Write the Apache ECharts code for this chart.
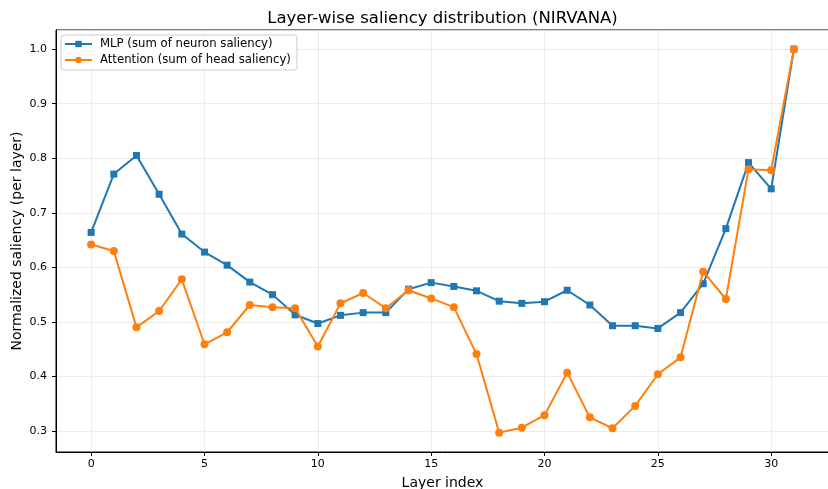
<!DOCTYPE html>
<html>
<head>
<meta charset="utf-8">
<script src="https://cdn.jsdelivr.net/npm/echarts@6/dist/echarts.min.js"></script>
<style>html,body{margin:0;padding:0;background:#fff;}#c{width:828px;height:489px;}</style>
</head>
<body>
<div id="c"></div>
<script>
const layers = [0,1,2,3,4,5,6,7,8,9,10,11,12,13,14,15,16,17,18,19,20,21,22,23,24,25,26,27,28,29,30,31];
const mlpValues = [0.664,0.771,0.805,0.734,0.661,0.628,0.604,0.573,0.550,0.513,0.497,0.512,0.517,0.517,0.560,0.572,0.565,0.557,0.538,0.534,0.537,0.558,0.531,0.493,0.493,0.488,0.517,0.570,0.671,0.792,0.744,1.0];
const attnValues = [0.642,0.630,0.490,0.520,0.578,0.459,0.481,0.531,0.527,0.525,0.455,0.534,0.553,0.525,0.558,0.543,0.527,0.441,0.297,0.306,0.329,0.407,0.325,0.305,0.346,0.404,0.435,0.592,0.542,0.780,0.778,1.0];
const seriesNames = ['MLP (sum of neuron saliency)','Attention (sum of head saliency)'];
const titleText = 'Layer-wise saliency distribution (NIRVANA)';
const xName = 'Layer index';
const yName = 'Normalized saliency (per layer)';

const font = 'DejaVu Sans';
const chart = echarts.init(document.getElementById('c'), null, {renderer:'canvas'});
const pair = (arr) => arr.map((v,i)=>[layers[i], v]);
chart.setOption({
  animation:false,
  backgroundColor:'#fff',
  textStyle:{fontFamily:font},
  title:{text:titleText,left:437.5,top:5,textAlign:'center',
    textStyle:{fontFamily:font,fontSize:16.5,fontWeight:'normal',color:'#000'}},
  grid:{left:56,top:30,width:773,height:422,show:true,borderColor:'#000',borderWidth:1,
    backgroundColor:'transparent',containLabel:false,outerBoundsMode:'none'},
  legend:{
    orient:'vertical',left:61,top:35,
    itemWidth:27,itemHeight:8,itemGap:4,
    padding:[3,6,4,3],
    backgroundColor:'rgba(255,255,255,0.85)',
    borderColor:'#cccccc',borderWidth:1,borderRadius:3,
    textStyle:{fontFamily:font,fontSize:11.7,color:'#000',padding:[0,0,0,3]},
    data:seriesNames
  },
  xAxis:{type:'value',min:-1.55,max:32.55,splitNumber:7,
    name:xName,nameLocation:'middle',nameGap:24,nameMoveOverlap:false,
    nameTextStyle:{fontFamily:font,fontSize:14,color:'#000'},
    axisLine:{show:true,onZero:false,lineStyle:{color:'#000',width:1}},
    axisTick:{show:true,length:4,lineStyle:{color:'#000'}},
    axisLabel:{showMinLabel:false,showMaxLabel:false,margin:7,fontFamily:font,fontSize:11,color:'#000'},
    splitLine:{show:true,lineStyle:{color:'#e6e6e6',width:0.8}}
  },
  yAxis:{type:'value',min:0.2615,max:1.0351,splitNumber:8,
    name:yName,nameLocation:'middle',nameGap:32,nameMoveOverlap:false,
    nameTextStyle:{fontFamily:font,fontSize:14,color:'#000'},
    axisLine:{show:true,onZero:false,lineStyle:{color:'#000',width:1}},
    axisTick:{show:true,length:4,lineStyle:{color:'#000'}},
    axisLabel:{showMinLabel:false,showMaxLabel:false,margin:9,fontFamily:font,fontSize:11,color:'#000',
      formatter:(v)=>v.toFixed(1)},
    splitLine:{show:true,lineStyle:{color:'#e6e6e6',width:0.8}}
  },
  series:[
    {name:seriesNames[0],type:'line',data:pair(mlpValues),symbol:'rect',symbolSize:7,
      lineStyle:{color:'#1f77b4',width:2},itemStyle:{color:'#1f77b4'},z:2},
    {name:seriesNames[1],type:'line',data:pair(attnValues),symbol:'circle',symbolSize:8,
      lineStyle:{color:'#ff7f0e',width:2},itemStyle:{color:'#ff7f0e'},z:3}
  ]
});
</script>
</body>
</html>
